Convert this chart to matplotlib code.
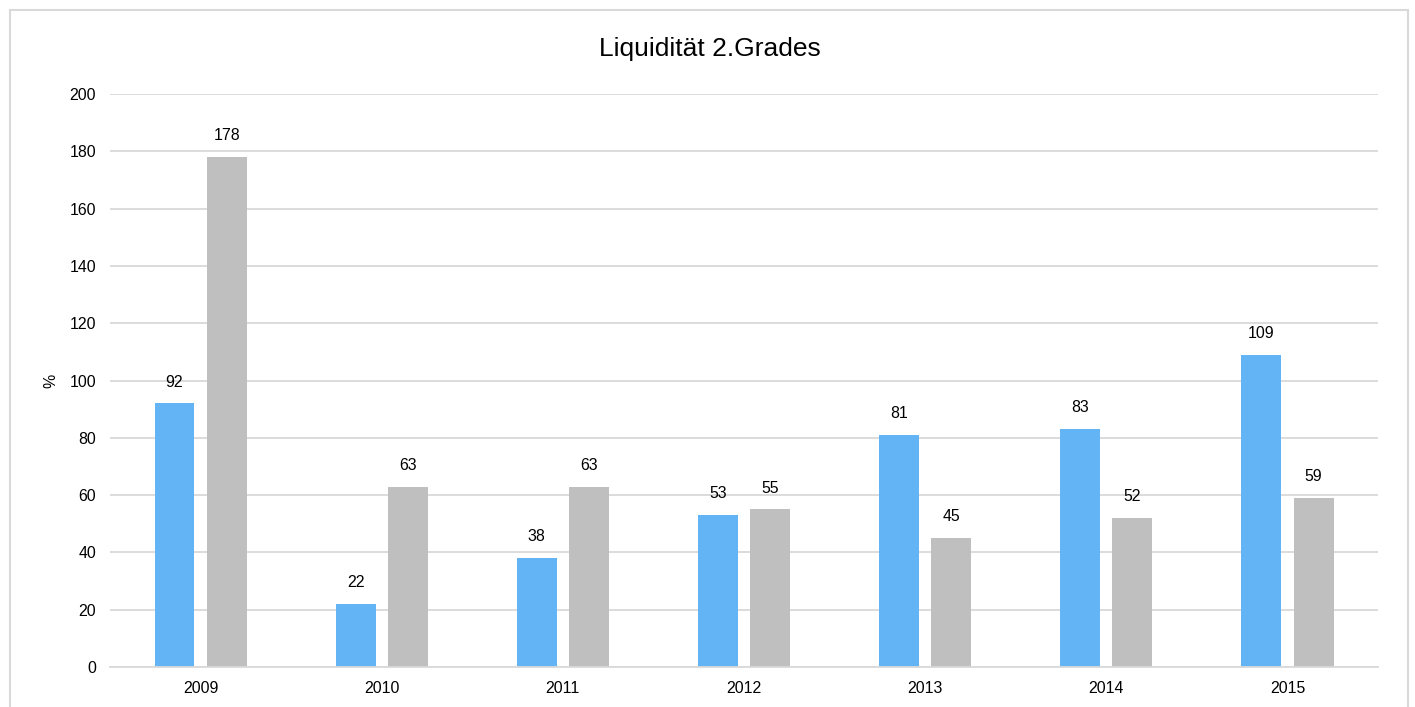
import matplotlib.pyplot as plt
import matplotlib.patches as patches
import numpy as np

plt.rcParams['font.family'] = ['Liberation Sans', 'DejaVu Sans']

years = ["2009", "2010", "2011", "2012", "2013", "2014", "2015"]
series_a = [92, 22, 38, 53, 81, 83, 109]
series_b = [178, 63, 63, 55, 45, 52, 59]

blue = "#63B4F5"
grey = "#BFBFBF"
grid_col = "#D9D9D9"

fig = plt.figure(figsize=(14.15, 7.07), dpi=100)
ax = fig.add_axes([0.0777, 0.0566, 0.8962, 0.8104])

x = np.arange(len(years))
w = 0.22
off = 0.144
bars_a = ax.bar(x - off, series_a, w, color=blue, zorder=3)
bars_b = ax.bar(x + off, series_b, w, color=grey, zorder=3)

for bars, vals in ((bars_a, series_a), (bars_b, series_b)):
    for b, v in zip(bars, vals):
        ax.annotate(str(v), (b.get_x() + b.get_width() / 2, v),
                    xytext=(0, 10), textcoords="offset points",
                    ha="center", va="bottom", fontsize=11.4, color="#000000")

ax.set_xlim(-0.5, len(years) - 0.5)
ax.set_ylim(0, 200)
ax.set_yticks(range(0, 201, 20))
ax.set_xticks(x)
ax.set_xticklabels(years)
ax.tick_params(axis="both", length=0, labelsize=11.4, colors="#000000")
ax.tick_params(axis="y", pad=10)
ax.tick_params(axis="x", pad=10)
ax.grid(axis="y", color=grid_col, linewidth=1.3, zorder=0)
for side in ("top", "right", "left"):
    ax.spines[side].set_visible(False)
ax.spines["bottom"].set_color(grid_col)
ax.spines["bottom"].set_linewidth(1.3)
ax.spines["bottom"].set_zorder(4)

ax.set_ylabel("%", fontsize=11.4, labelpad=8)
fig.text(0.5015, 0.931, "Liquidität 2.Grades", ha="center", va="center", fontsize=19)

# outer chart frame
frame = patches.Rectangle((10 / 1415, -0.05), 1398 / 1415, 1 - 10 / 707 + 0.05,
                          transform=fig.transFigure, fill=False,
                          edgecolor=grid_col, linewidth=1.5)
fig.patches.append(frame)

fig.savefig("out.png", dpi=100)
